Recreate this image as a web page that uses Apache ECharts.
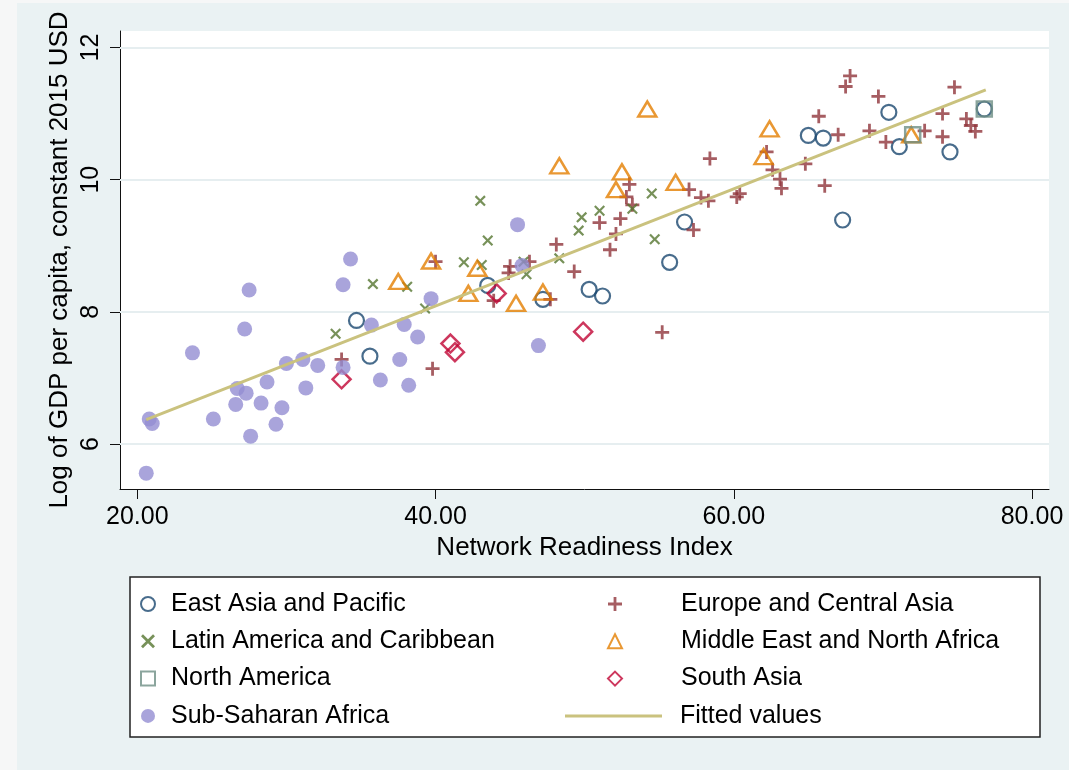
<!DOCTYPE html>
<html>
<head>
<meta charset="utf-8">
<script src="https://cdn.jsdelivr.net/npm/echarts@6/dist/echarts.min.js"></script>
<style>
html, body { margin: 0; padding: 0; background: #f6f7f7; }
#chart { width: 1069px; height: 770px; }
</style>
</head>
<body>
<div id="chart"></div>
<script>
// ticks
const xTicks = [20, 40, 60, 80]
const yTicks = [6, 8, 10, 12]

// [network readiness index, log gdp per capita]
const eastAsia = [[34.7, 7.87], [35.6, 7.33], [43.5, 8.40], [47.2, 8.19], [50.3, 8.34], [51.2, 8.24],
    [55.7, 8.75], [56.7, 9.36], [65.0, 10.67], [66.0, 10.63], [67.3, 9.39], [70.4, 11.02],
    [71.1, 10.50], [74.5, 10.42], [76.8, 11.07]]
const europe = [[33.7, 7.28], [39.8, 7.14], [40.0, 8.76], [43.9, 8.17], [44.9, 8.59], [45.0, 8.69],
    [46.3, 8.76], [47.7, 8.19], [48.1, 9.02], [49.3, 8.61], [51.0, 9.35], [51.7, 8.94],
    [52.1, 9.18], [52.4, 9.41], [52.8, 9.74], [53.0, 9.93], [53.2, 9.62], [55.2, 7.69],
    [57.0, 9.85], [57.3, 9.24], [57.8, 9.73], [58.3, 9.68], [58.4, 10.32], [60.2, 9.74],
    [60.4, 9.79], [62.2, 10.42], [62.6, 10.15], [63.1, 10.01], [63.2, 9.87], [64.8, 10.24],
    [65.7, 10.96], [66.1, 9.91], [67.0, 10.68], [67.5, 11.41], [67.8, 11.57], [69.1, 10.74],
    [69.7, 11.26], [70.2, 10.57], [72.8, 10.74], [74.0, 11.00], [74.0, 10.65], [74.8, 11.40],
    [75.6, 10.92], [75.9, 10.82], [76.2, 10.73]]
const latAm = [[33.3, 7.67], [35.8, 8.42], [38.1, 8.38], [39.3, 8.05], [41.9, 8.75], [43.0, 9.68],
    [43.1, 8.71], [43.5, 9.08], [45.9, 8.76], [46.1, 8.57], [48.3, 8.81], [49.6, 9.23],
    [49.8, 9.43], [51.0, 9.53], [53.2, 9.56], [54.5, 9.79], [54.7, 9.10]]
const midEast = [[37.5, 8.46], [39.7, 8.77], [42.2, 8.28], [42.8, 8.66], [45.4, 8.13], [47.2, 8.30],
    [48.3, 10.21], [52.1, 9.85], [52.5, 10.12], [54.2, 11.07], [56.1, 9.96], [62.0, 10.35],
    [62.4, 10.77], [71.9, 10.68]]
const northAm = [[72.0, 10.68], [76.8, 11.07]]
const southAsia = [[33.7, 6.98], [41.0, 7.52], [41.3, 7.39], [44.1, 8.28], [49.9, 7.70]]
const subSahara = [[20.6, 5.56], [20.8, 6.38], [21.0, 6.31], [23.7, 7.38], [25.1, 6.38], [26.6, 6.60],
    [26.7, 6.84], [27.2, 7.74], [27.3, 6.77], [27.5, 8.33], [27.6, 6.12], [28.3, 6.62],
    [28.7, 6.94], [29.3, 6.30], [29.7, 6.55], [30.0, 7.22], [31.1, 7.28], [31.3, 6.85],
    [32.1, 7.19], [33.8, 8.41], [33.8, 7.16], [34.3, 8.80], [35.7, 7.80], [36.3, 6.97],
    [37.6, 7.28], [37.9, 7.81], [38.2, 6.89], [38.8, 7.62], [39.7, 8.20], [45.5, 9.32],
    [45.8, 8.70], [46.9, 7.49]]
const fitted = [[20.6, 6.37], [76.9, 11.36]]

const FONT = "'Liberation Sans', Arial, sans-serif"
const plusPath = 'path://M4,0H6V4H10V6H6V10H4V6H0V4H4Z'
const crossPath = 'path://M1.4,0L5,3.6L8.6,0L10,1.4L6.4,5L10,8.6L8.6,10L5,6.4L1.4,10L0,8.6L3.6,5L0,1.4Z'

function hollow(name, data, symbol, size, color, bw) {
    return {
        name: name, type: 'scatter', data: data, symbol: symbol, symbolSize: size,
        itemStyle: { color: 'rgba(255,255,255,0)', borderColor: color, borderWidth: bw },
        emphasis: { disabled: true }
    }
}
function solid(name, data, symbol, size, color) {
    return {
        name: name, type: 'scatter', data: data, symbol: symbol, symbolSize: size,
        itemStyle: { color: color }, emphasis: { disabled: true }
    }
}

const chart = echarts.init(document.getElementById('chart'))

const legendText = { fontFamily: FONT, fontSize: 25, color: '#000', lineHeight: 26 }
function legendCol(left, top, itemWidth, itemHeight, pad, data) {
    return {
        orient: 'vertical', left: left, top: top, padding: 0,
        itemWidth: itemWidth, itemHeight: itemHeight, itemGap: 11.3,
        selectedMode: false,
        textStyle: Object.assign({}, legendText, { padding: [0, 0, 0, pad] }),
        data: data
    }
}

const option = {
    backgroundColor: '#f6f7f7',
    animation: false,
    graphic: [
        { type: 'rect', z: -10, shape: { x: 17, y: 3, width: 1052, height: 767 }, style: { fill: '#eaf2f3' } },
        { type: 'rect', z: 1, shape: { x: 130, y: 577, width: 910, height: 160 },
            style: { fill: '#fff', stroke: '#222', lineWidth: 1.5 } }
    ],
    grid: {
        left: 120, right: 20, top: 31, bottom: 281,
        show: true, backgroundColor: '#fff', borderWidth: 0
    },
    legend: [
        legendCol(140, 591, 14, 14, 11,
            ['East Asia and Pacific', 'Latin America and Caribbean', 'North America', 'Sub-Saharan Africa']),
        legendCol(607, 591, 14, 14, 54,
            ['Europe and Central Asia', 'Middle East and North Africa', 'South Asia']),
        legendCol(565, 703, 97, 3, 13, [{ name: 'Fitted values', icon: 'rect' }])
    ],
    xAxis: {
        type: 'value', min: 18.84, max: 81.14,
        name: 'Network Readiness Index', nameLocation: 'middle', nameGap: 44,
        nameTextStyle: { fontFamily: FONT, fontSize: 26, color: '#000' },
        axisLine: { show: true, lineStyle: { color: '#111', width: 1 } },
        axisTick: { show: true, length: 10, customValues: xTicks, lineStyle: { color: '#111' } },
        axisLabel: {
            customValues: xTicks, fontFamily: FONT, fontSize: 25, color: '#000', margin: 16,
            formatter: v => v.toFixed(2)
        },
        splitLine: { show: false }
    },
    yAxis: {
        type: 'value', min: 5.32, max: 12.25,
        name: 'Log of GDP per capita, constant 2015 USD', nameLocation: 'middle', nameGap: 47,
        nameMoveOverlap: false,
        nameTextStyle: { fontFamily: FONT, fontSize: 26, color: '#000' },
        axisLine: { show: true, lineStyle: { color: '#111', width: 1 } },
        axisTick: { show: true, length: 10, customValues: yTicks, lineStyle: { color: '#111' } },
        axisLabel: { customValues: yTicks, rotate: 90, fontFamily: FONT, fontSize: 25, color: '#000', margin: 16 },
        splitLine: { show: false }
    },
    series: [
        hollow('East Asia and Pacific', eastAsia, 'circle', 15, '#1a476f', 2.2),
        solid('Europe and Central Asia', europe, plusPath, 14, '#90353b'),
        solid('Latin America and Caribbean', latAm, crossPath, 11, '#55752f'),
        hollow('Middle East and North Africa', midEast, 'triangle', [18, 15], '#e37e00', 2.5),
        hollow('North America', northAm, 'rect', 15, '#6e8e84', 2.5),
        hollow('South Asia', southAsia, 'diamond', 18, '#c10534', 2.5),
        solid('Sub-Saharan Africa', subSahara, 'circle', 15, '#938dd2'),
        {
            name: 'Fitted values', type: 'line', data: fitted, symbol: 'none',
            itemStyle: { color: '#cac27e' },
            lineStyle: { color: '#cac27e', width: 3 },
            emphasis: { disabled: true },
            markLine: {
                z: 1, silent: true, symbol: 'none', label: { show: false },
                lineStyle: { color: '#e6eef0', width: 2, type: 'solid' },
                data: yTicks.map(v => ({ yAxis: v }))
            }
        }
    ]
}

chart.setOption(option)
</script>
</body>
</html>
